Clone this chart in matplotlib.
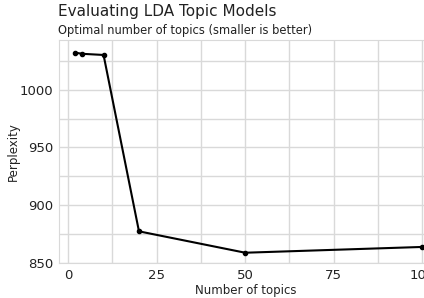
import matplotlib
matplotlib.use("Agg")
import matplotlib.pyplot as plt
from matplotlib.ticker import MultipleLocator

# perplexity by number of topics
n_topics = [2, 4, 10, 20, 50, 100]
perplexity = [1032, 1031, 1030, 877.5, 859, 864]

GRID = "#d9d9d9"
plt.rcParams.update({"font.family": "DejaVu Sans"})

fig = plt.figure(figsize=(4.24, 2.98), dpi=100)
ax = fig.add_axes([0.139, 0.117, 0.882, 0.749])

ax.plot(n_topics, perplexity, color="black", lw=1.5, marker="o", ms=3)

ax.set_xlim(-2.6, 103)
ax.set_ylim(850, 1043)
ax.xaxis.set_major_locator(MultipleLocator(25))
ax.xaxis.set_minor_locator(MultipleLocator(12.5))
ax.yaxis.set_major_locator(MultipleLocator(50))
ax.yaxis.set_minor_locator(MultipleLocator(25))
ax.grid(True, which="both", color=GRID, lw=1)
ax.set_axisbelow(True)
ax.tick_params(which="both", length=0, labelsize=9.5, colors="#222222", pad=4)
for sp in ax.spines.values():
    sp.set_color(GRID)

ax.set_xlabel("Number of topics", fontsize=8.5, color="#222222", labelpad=2)
ax.set_ylabel("Perplexity", fontsize=8.5, color="#222222", labelpad=0)

fig.text(0.137, 0.985, "Evaluating LDA Topic Models", ha="left", va="top",
         fontsize=11, color="#222222")
fig.text(0.137, 0.92, "Optimal number of topics (smaller is better)", ha="left",
         va="top", fontsize=8.3, color="#222222")

fig.savefig("out.png", dpi=100)
